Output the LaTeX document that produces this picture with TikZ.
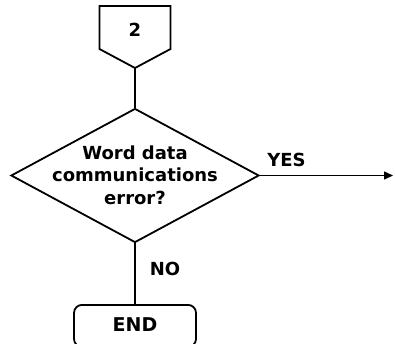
\documentclass[tikz,border=0pt]{standalone}
\usepackage{fontspec}
\setmainfont{DejaVu Sans}
\usetikzlibrary{shapes.geometric,arrows.meta}
\begin{document}
\begin{tikzpicture}[x=1pt,y=-1pt,line width=1.8pt,
  lbl/.style={font=\fontsize{18}{21}\selectfont\bfseries, inner sep=0pt},
  dec/.style={draw, diamond, minimum width=248pt, minimum height=134pt, inner sep=0pt},
  dtext/.style={align=center, inner sep=0pt, font=\fontsize{18}{22.5}\selectfont\bfseries},
  term/.style={draw, rounded corners=8pt, minimum width=122pt, minimum height=42pt, anchor=north, inner sep=0pt, font=\fontsize{19}{21}\selectfont\bfseries},
  flow/.style={line width=1.5pt}]
\useasboundingbox (0,0) rectangle (395,343);
\clip (0,0) rectangle (395,343);
% off-page connector
\draw (99.5,6) -- (170.5,6) -- (170.5,49) -- (135,68) coordinate (tip) -- (99.5,49) -- cycle;
\node[lbl] (two) at (135,30) {2};
% decision
\node[dec] (q) at (135,175.5) {};
\node[dtext] (qt) at (135,175) {Word data\\communications\\error?};
% terminal
\node[term] (end) at (135,304) {\raisebox{3pt}{END}};
\coordinate (out) at (393,175.5);
% connectors
\draw[flow] (tip) -- (q.north);
\draw[flow] (q.south) -- (end.north);
\draw[flow,-{Triangle[length=9pt,width=8pt]}] (q.east) -- (q.east -| out);
\node[lbl] (yes) at (286.5,159.5) {YES};
\node[lbl] (no) at (165,268.5) {NO};
\end{tikzpicture}
\end{document}
